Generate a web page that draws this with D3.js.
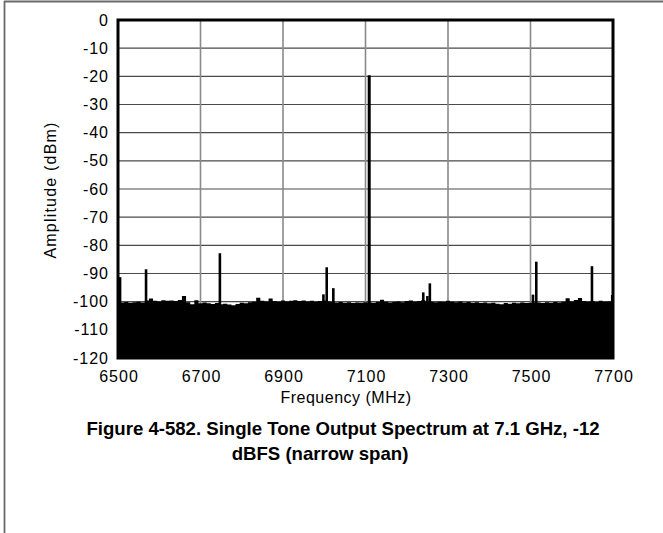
<!DOCTYPE html>
<html><head><meta charset="utf-8">
<script src="https://cdn.jsdelivr.net/npm/d3@7"></script>
<style>
body{margin:0;background:#fff}
svg{display:block}
text{font-family:"Liberation Sans",Arial,Helvetica,sans-serif}
</style>
</head><body>
<svg id="c" width="663" height="533"></svg>
<script>
// ---- data ----
const freqTicks = [6500, 6700, 6900, 7100, 7300, 7500, 7700];
const ampTicks = [0, -10, -20, -30, -40, -50, -60, -70, -80, -90, -100, -110, -120];

const noiseFreq = d3.range(6500, 7701, 10);
const noiseAmp = [
  -100.0, -100.3, -100.1, -100.4, -100.2, -100.0, -100.3, -99.6, -98.9, -99.7,
  -99.9, -99.5, -99.7, -99.6, -99.8, -99.4, -98.0, -100.2, -100.9, -99.5,
  -100.6, -100.3, -100.6, -100.8, -100.5, -100.9, -100.7, -101.0, -101.3, -100.8,
  -100.4, -100.6, -100.2, -100.0, -98.6, -99.7, -99.9, -98.9, -99.8, -100.0,
  -99.6, -99.9, -99.7, -99.5, -99.8, -99.6, -99.9, -99.7, -100.0, -99.8,
  -99.6, -99.9, -100.1, -100.3, -100.1, -100.4, -100.2, -100.5, -100.3, -100.4,
  -100.2, -100.3, -100.4, -100.1, -99.3, -100.0, -100.3, -100.1, -99.9, -100.2,
  -99.8, -99.6, -100.0, -99.8, -99.5, -99.9, -100.0, -100.2, -100.0, -100.1,
  -99.7, -100.0, -100.2, -99.9, -100.3, -100.1, -100.4, -100.2, -100.5, -100.3,
  -100.6, -100.4, -100.7, -100.9, -100.5, -100.7, -100.4, -100.6, -100.3, -100.5,
  -100.4, -100.2, -100.3, -100.5, -100.2, -100.4, -100.1, -100.3, -100.0, -98.8,
  -99.9, -99.4, -98.7, -99.8, -100.0, -99.8, -100.1, -99.7, -100.0, -99.9,
  -97.6
];

// discrete tones / spurs
const spurFreq = [6505, 6568, 6747, 6998, 7006, 7022, 7109, 7240, 7250, 7256, 7506, 7514, 7649];
const spurAmp  = [-91.3, -88.5, -82.8, -97.4, -87.8, -95.2, -19.6, -96.7, -98.0, -93.5, -97.5, -85.8, -87.4];

const titleLine1 = "Figure 4-582. Single Tone Output Spectrum at 7.1 GHz, -12";
const titleLine2 = "dBFS (narrow span)";

// ---- drawing ----
const svg = d3.select("#c");
const L = 118, R = 613, T = 20, B = 358;

const x = d3.scaleLinear().domain([6500, 7700]).range([L, R]);
const y = d3.scaleLinear().domain([-120, 0]).range([B, T]);

// outer frame (top + left only)
svg.append("line").attr("x1", 4).attr("y1", 1.5).attr("x2", 663).attr("y2", 1.5)
  .attr("stroke", "#6a6a6a").attr("stroke-width", 1.8);
svg.append("line").attr("x1", 4.5).attr("y1", 1).attr("x2", 4.5).attr("y2", 533)
  .attr("stroke", "#6a6a6a").attr("stroke-width", 1.8);

// grid
svg.append("g").selectAll("line").data(ampTicks.filter(d => d !== 0 && d !== -120)).join("line")
  .attr("x1", L).attr("x2", R).attr("y1", d => y(d)).attr("y2", d => y(d))
  .attr("stroke", "#4a4a4a").attr("stroke-width", 1.2);
svg.append("g").selectAll("line").data(freqTicks.slice(1, -1)).join("line")
  .attr("y1", T).attr("y2", B).attr("x1", d => x(d)).attr("x2", d => x(d))
  .attr("stroke", "#8a8a8a").attr("stroke-width", 1.6);

// noise floor
const noise = noiseFreq.map((f, i) => [f, noiseAmp[i]]);
svg.append("path").datum(noise)
  .attr("d", d3.area().x(d => x(d[0])).y0(y(-120)).y1(d => y(d[1])).curve(d3.curveStep))
  .attr("fill", "#000");

// spurs
svg.append("g").selectAll("line").data(spurFreq.map((f, i) => [f, spurAmp[i]])).join("line")
  .attr("x1", d => x(d[0])).attr("x2", d => x(d[0]))
  .attr("y1", y(-120)).attr("y2", d => y(d[1]))
  .attr("stroke", "#000").attr("stroke-width", d => d[1] > -50 ? 3 : 2.6);

// plot border
svg.append("rect").attr("x", L).attr("y", T).attr("width", R - L).attr("height", B - T)
  .attr("fill", "none").attr("stroke", "#000").attr("stroke-width", 3);

// axes (labels only)
const fmt = d => String(d);
const yAxis = svg.append("g").attr("transform", `translate(${L},0)`)
  .call(d3.axisLeft(y).tickValues(ampTicks).tickSize(0).tickPadding(10).tickFormat(fmt));
yAxis.select(".domain").remove();
yAxis.attr("font-family", null).attr("font-size", null);
yAxis.selectAll("text").attr("font-size", 16).attr("fill", "#000")
  .attr("letter-spacing", 1).attr("dx", 1);

const xAxis = svg.append("g").attr("transform", `translate(0,${B})`)
  .call(d3.axisBottom(x).tickValues(freqTicks).tickSize(0).tickPadding(13).tickFormat(fmt));
xAxis.select(".domain").remove();
xAxis.attr("font-family", null).attr("font-size", null);
xAxis.selectAll("text").attr("font-size", 16).attr("fill", "#000")
  .attr("letter-spacing", 1).attr("dx", 0.5);

// axis titles
svg.append("text").attr("transform", "translate(56,190) rotate(-90)")
  .attr("text-anchor", "middle").attr("font-size", 16).attr("letter-spacing", 1.2)
  .text("Amplitude (dBm)");
svg.append("text").attr("x", 346).attr("y", 403)
  .attr("text-anchor", "middle").attr("font-size", 16).attr("letter-spacing", 0.5)
  .text("Frequency (MHz)");

// figure caption
svg.append("text").attr("x", 343).attr("y", 435)
  .attr("text-anchor", "middle").attr("font-size", 18.6).attr("font-weight", "bold")
  .text(titleLine1);
svg.append("text").attr("x", 320).attr("y", 460)
  .attr("text-anchor", "middle").attr("font-size", 18.6).attr("font-weight", "bold")
  .text(titleLine2);
</script>
</body></html>
